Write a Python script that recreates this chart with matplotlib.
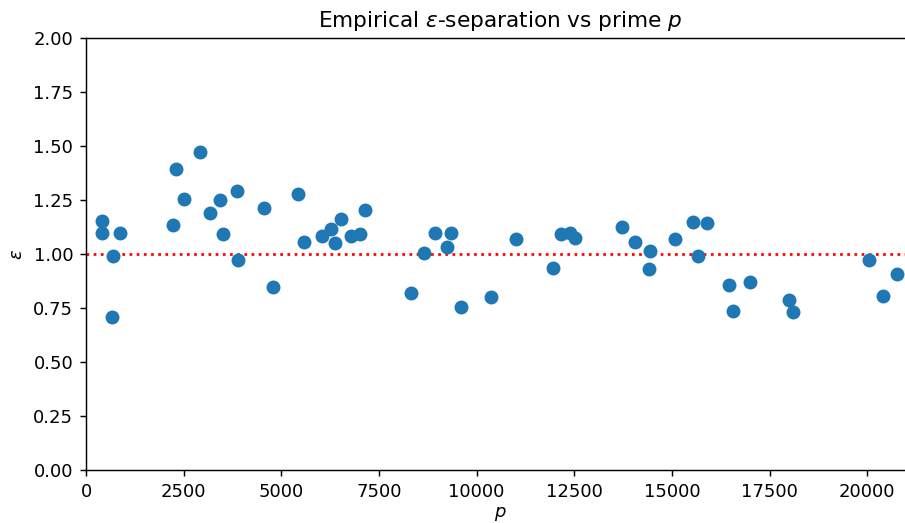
import matplotlib.pyplot as plt

# primes p and measured epsilon-separation
p = [403, 418, 667, 700, 872, 2223, 2300, 2520, 2923, 3172, 3436, 3520,
     3854, 3879, 4546, 4787, 5418, 5582, 6043, 6282, 6377, 6531, 6795,
     7007, 7136, 8325, 8648, 8948, 9248, 9351, 9607, 10371, 11000, 11956,
     12171, 12384, 12530, 13735, 14043, 14410, 14435, 15069, 15545, 15674,
     15897, 16461, 16571, 17007, 17991, 18109, 20043, 20402, 20768]
eps = [1.096, 1.153, 0.710, 0.991, 1.096, 1.136, 1.392, 1.253, 1.474, 1.188,
       1.249, 1.093, 1.293, 0.974, 1.213, 0.849, 1.276, 1.057, 1.083, 1.117,
       1.052, 1.162, 1.083, 1.091, 1.204, 0.819, 1.005, 1.096, 1.031, 1.096,
       0.756, 0.799, 1.070, 0.934, 1.093, 1.096, 1.072, 1.125, 1.056, 0.932,
       1.014, 1.069, 1.147, 0.990, 1.142, 0.856, 0.735, 0.870, 0.788, 0.730,
       0.972, 0.804, 0.907]

dpi = 130
fig = plt.figure(figsize=(905 / dpi, 523 / dpi), dpi=dpi)
ax = fig.add_axes([86 / 905, 53 / 523, 1.01 - 86 / 905, 432 / 523])

ax.scatter(p, eps, s=45, color='#1f77b4', zorder=3)
ax.axhline(1.0, color='red', linestyle=':', linewidth=1.5)

ax.set_xlim(0, 21200)
ax.set_ylim(0, 2)
ax.set_title(r'Empirical $\varepsilon$-separation vs prime $p$')
ax.set_xlabel(r'$p$', labelpad=2.5)
ax.set_ylabel(r'$\varepsilon$')

fig.savefig('out.png', dpi=dpi)
